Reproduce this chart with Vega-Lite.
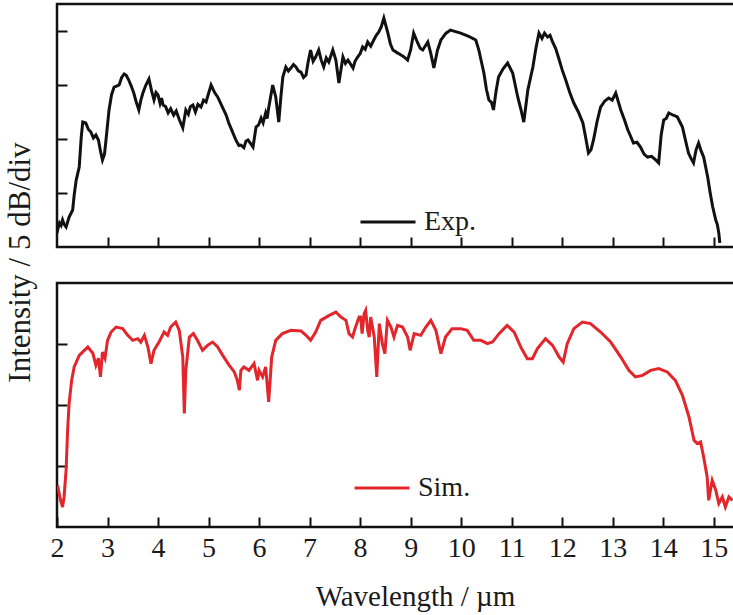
{
  "$schema": "https://vega.github.io/schema/vega-lite/v6.json",
  "padding": {"left": 2, "top": 2, "right": 0, "bottom": 0},
  "background": "white",
  "bounds": "flush",
  "spacing": 36,
  "config": {
    "font": "Liberation Serif",
    "view": {"stroke": "#111", "strokeWidth": 2.5},
    "axis": {
      "grid": false,
      "domain": false,
      "tickColor": "#111",
      "tickWidth": 2,
      "tickSize": -10,
      "labelFlush": false,
      "labelFont": "Liberation Serif",
      "titleFont": "Liberation Serif",
      "labelFontSize": 28,
      "titleFontSize": 29,
      "labelColor": "#1a1a1a",
      "titleColor": "#1a1a1a",
      "titleFontWeight": "normal"
    },
    "legend": {
      "labelFont": "Liberation Serif",
      "labelFontSize": 28,
      "labelColor": "#1a1a1a",
      "symbolType": "stroke",
      "symbolSize": 3025,
      "symbolStrokeWidth": 3,
      "labelOffset": 7,
      "padding": 0,
      "title": null
    }
  },
  "datasets": {
    "exp": [
      {"wl": 2.00, "v": 1.30, "s": "Exp."},
      {"wl": 2.03, "v": 1.90, "s": "Exp."},
      {"wl": 2.05, "v": 2.22, "s": "Exp."},
      {"wl": 2.08, "v": 2.00, "s": "Exp."},
      {"wl": 2.11, "v": 2.50, "s": "Exp."},
      {"wl": 2.14, "v": 2.10, "s": "Exp."},
      {"wl": 2.18, "v": 1.85, "s": "Exp."},
      {"wl": 2.24, "v": 2.78, "s": "Exp."},
      {"wl": 2.31, "v": 3.43, "s": "Exp."},
      {"wl": 2.34, "v": 4.80, "s": "Exp."},
      {"wl": 2.38, "v": 6.20, "s": "Exp."},
      {"wl": 2.44, "v": 7.41, "s": "Exp."},
      {"wl": 2.48, "v": 10.20, "s": "Exp."},
      {"wl": 2.51, "v": 11.57, "s": "Exp."},
      {"wl": 2.57, "v": 11.48, "s": "Exp."},
      {"wl": 2.62, "v": 10.90, "s": "Exp."},
      {"wl": 2.67, "v": 10.65, "s": "Exp."},
      {"wl": 2.72, "v": 10.10, "s": "Exp."},
      {"wl": 2.77, "v": 10.37, "s": "Exp."},
      {"wl": 2.82, "v": 9.91, "s": "Exp."},
      {"wl": 2.86, "v": 8.90, "s": "Exp."},
      {"wl": 2.90, "v": 8.06, "s": "Exp."},
      {"wl": 2.94, "v": 8.60, "s": "Exp."},
      {"wl": 2.97, "v": 9.91, "s": "Exp."},
      {"wl": 3.03, "v": 12.69, "s": "Exp."},
      {"wl": 3.08, "v": 14.10, "s": "Exp."},
      {"wl": 3.13, "v": 14.81, "s": "Exp."},
      {"wl": 3.18, "v": 14.90, "s": "Exp."},
      {"wl": 3.23, "v": 15.00, "s": "Exp."},
      {"wl": 3.28, "v": 15.70, "s": "Exp."},
      {"wl": 3.33, "v": 16.02, "s": "Exp."},
      {"wl": 3.37, "v": 15.90, "s": "Exp."},
      {"wl": 3.42, "v": 15.46, "s": "Exp."},
      {"wl": 3.47, "v": 14.90, "s": "Exp."},
      {"wl": 3.52, "v": 14.26, "s": "Exp."},
      {"wl": 3.57, "v": 13.40, "s": "Exp."},
      {"wl": 3.62, "v": 12.69, "s": "Exp."},
      {"wl": 3.66, "v": 13.60, "s": "Exp."},
      {"wl": 3.70, "v": 14.26, "s": "Exp."},
      {"wl": 3.76, "v": 15.00, "s": "Exp."},
      {"wl": 3.82, "v": 15.56, "s": "Exp."},
      {"wl": 3.87, "v": 14.50, "s": "Exp."},
      {"wl": 3.92, "v": 13.61, "s": "Exp."},
      {"wl": 3.96, "v": 14.30, "s": "Exp."},
      {"wl": 4.00, "v": 14.07, "s": "Exp."},
      {"wl": 4.04, "v": 13.30, "s": "Exp."},
      {"wl": 4.07, "v": 13.80, "s": "Exp."},
      {"wl": 4.10, "v": 13.15, "s": "Exp."},
      {"wl": 4.15, "v": 13.00, "s": "Exp."},
      {"wl": 4.20, "v": 12.41, "s": "Exp."},
      {"wl": 4.25, "v": 12.80, "s": "Exp."},
      {"wl": 4.31, "v": 12.22, "s": "Exp."},
      {"wl": 4.36, "v": 12.60, "s": "Exp."},
      {"wl": 4.42, "v": 11.80, "s": "Exp."},
      {"wl": 4.49, "v": 11.02, "s": "Exp."},
      {"wl": 4.55, "v": 12.69, "s": "Exp."},
      {"wl": 4.60, "v": 12.30, "s": "Exp."},
      {"wl": 4.64, "v": 13.00, "s": "Exp."},
      {"wl": 4.69, "v": 13.15, "s": "Exp."},
      {"wl": 4.74, "v": 12.50, "s": "Exp."},
      {"wl": 4.79, "v": 13.20, "s": "Exp."},
      {"wl": 4.85, "v": 12.96, "s": "Exp."},
      {"wl": 4.90, "v": 13.60, "s": "Exp."},
      {"wl": 4.95, "v": 13.43, "s": "Exp."},
      {"wl": 5.05, "v": 15.00, "s": "Exp."},
      {"wl": 5.12, "v": 14.30, "s": "Exp."},
      {"wl": 5.18, "v": 13.89, "s": "Exp."},
      {"wl": 5.30, "v": 12.69, "s": "Exp."},
      {"wl": 5.35, "v": 12.20, "s": "Exp."},
      {"wl": 5.40, "v": 11.48, "s": "Exp."},
      {"wl": 5.47, "v": 10.70, "s": "Exp."},
      {"wl": 5.54, "v": 9.91, "s": "Exp."},
      {"wl": 5.60, "v": 9.40, "s": "Exp."},
      {"wl": 5.64, "v": 9.44, "s": "Exp."},
      {"wl": 5.70, "v": 9.20, "s": "Exp."},
      {"wl": 5.74, "v": 9.80, "s": "Exp."},
      {"wl": 5.78, "v": 9.91, "s": "Exp."},
      {"wl": 5.83, "v": 9.60, "s": "Exp."},
      {"wl": 5.88, "v": 9.26, "s": "Exp."},
      {"wl": 5.94, "v": 11.11, "s": "Exp."},
      {"wl": 5.99, "v": 11.30, "s": "Exp."},
      {"wl": 6.04, "v": 11.94, "s": "Exp."},
      {"wl": 6.08, "v": 11.50, "s": "Exp."},
      {"wl": 6.13, "v": 12.41, "s": "Exp."},
      {"wl": 6.16, "v": 11.90, "s": "Exp."},
      {"wl": 6.19, "v": 12.87, "s": "Exp."},
      {"wl": 6.27, "v": 15.00, "s": "Exp."},
      {"wl": 6.33, "v": 13.89, "s": "Exp."},
      {"wl": 6.39, "v": 11.57, "s": "Exp."},
      {"wl": 6.43, "v": 13.80, "s": "Exp."},
      {"wl": 6.47, "v": 15.74, "s": "Exp."},
      {"wl": 6.53, "v": 16.67, "s": "Exp."},
      {"wl": 6.58, "v": 16.30, "s": "Exp."},
      {"wl": 6.63, "v": 16.57, "s": "Exp."},
      {"wl": 6.68, "v": 16.90, "s": "Exp."},
      {"wl": 6.73, "v": 16.67, "s": "Exp."},
      {"wl": 6.78, "v": 16.30, "s": "Exp."},
      {"wl": 6.83, "v": 16.20, "s": "Exp."},
      {"wl": 6.88, "v": 15.70, "s": "Exp."},
      {"wl": 6.93, "v": 15.93, "s": "Exp."},
      {"wl": 6.97, "v": 17.10, "s": "Exp."},
      {"wl": 7.02, "v": 18.24, "s": "Exp."},
      {"wl": 7.07, "v": 17.20, "s": "Exp."},
      {"wl": 7.12, "v": 17.59, "s": "Exp."},
      {"wl": 7.18, "v": 18.24, "s": "Exp."},
      {"wl": 7.23, "v": 17.30, "s": "Exp."},
      {"wl": 7.28, "v": 16.67, "s": "Exp."},
      {"wl": 7.33, "v": 17.50, "s": "Exp."},
      {"wl": 7.38, "v": 17.13, "s": "Exp."},
      {"wl": 7.46, "v": 18.24, "s": "Exp."},
      {"wl": 7.52, "v": 17.31, "s": "Exp."},
      {"wl": 7.58, "v": 15.19, "s": "Exp."},
      {"wl": 7.66, "v": 17.59, "s": "Exp."},
      {"wl": 7.71, "v": 17.00, "s": "Exp."},
      {"wl": 7.76, "v": 17.31, "s": "Exp."},
      {"wl": 7.86, "v": 16.57, "s": "Exp."},
      {"wl": 7.90, "v": 17.20, "s": "Exp."},
      {"wl": 7.95, "v": 17.59, "s": "Exp."},
      {"wl": 8.00, "v": 17.90, "s": "Exp."},
      {"wl": 8.05, "v": 18.52, "s": "Exp."},
      {"wl": 8.10, "v": 18.30, "s": "Exp."},
      {"wl": 8.15, "v": 18.98, "s": "Exp."},
      {"wl": 8.21, "v": 18.60, "s": "Exp."},
      {"wl": 8.27, "v": 19.17, "s": "Exp."},
      {"wl": 8.32, "v": 19.60, "s": "Exp."},
      {"wl": 8.37, "v": 19.91, "s": "Exp."},
      {"wl": 8.42, "v": 20.40, "s": "Exp."},
      {"wl": 8.47, "v": 21.20, "s": "Exp."},
      {"wl": 8.55, "v": 19.81, "s": "Exp."},
      {"wl": 8.60, "v": 18.80, "s": "Exp."},
      {"wl": 8.65, "v": 18.24, "s": "Exp."},
      {"wl": 8.73, "v": 18.00, "s": "Exp."},
      {"wl": 8.81, "v": 17.78, "s": "Exp."},
      {"wl": 8.87, "v": 17.60, "s": "Exp."},
      {"wl": 8.94, "v": 17.31, "s": "Exp."},
      {"wl": 9.00, "v": 18.24, "s": "Exp."},
      {"wl": 9.06, "v": 19.81, "s": "Exp."},
      {"wl": 9.14, "v": 18.89, "s": "Exp."},
      {"wl": 9.19, "v": 18.40, "s": "Exp."},
      {"wl": 9.24, "v": 18.24, "s": "Exp."},
      {"wl": 9.34, "v": 18.98, "s": "Exp."},
      {"wl": 9.40, "v": 17.90, "s": "Exp."},
      {"wl": 9.46, "v": 16.57, "s": "Exp."},
      {"wl": 9.53, "v": 18.20, "s": "Exp."},
      {"wl": 9.60, "v": 19.17, "s": "Exp."},
      {"wl": 9.70, "v": 19.80, "s": "Exp."},
      {"wl": 9.79, "v": 20.09, "s": "Exp."},
      {"wl": 9.99, "v": 19.81, "s": "Exp."},
      {"wl": 10.15, "v": 19.50, "s": "Exp."},
      {"wl": 10.29, "v": 19.17, "s": "Exp."},
      {"wl": 10.35, "v": 18.24, "s": "Exp."},
      {"wl": 10.45, "v": 16.11, "s": "Exp."},
      {"wl": 10.50, "v": 14.60, "s": "Exp."},
      {"wl": 10.55, "v": 13.61, "s": "Exp."},
      {"wl": 10.60, "v": 13.40, "s": "Exp."},
      {"wl": 10.64, "v": 12.69, "s": "Exp."},
      {"wl": 10.69, "v": 14.40, "s": "Exp."},
      {"wl": 10.74, "v": 15.74, "s": "Exp."},
      {"wl": 10.83, "v": 16.50, "s": "Exp."},
      {"wl": 10.92, "v": 17.04, "s": "Exp."},
      {"wl": 11.02, "v": 16.11, "s": "Exp."},
      {"wl": 11.07, "v": 15.00, "s": "Exp."},
      {"wl": 11.12, "v": 13.89, "s": "Exp."},
      {"wl": 11.18, "v": 12.80, "s": "Exp."},
      {"wl": 11.24, "v": 11.57, "s": "Exp."},
      {"wl": 11.32, "v": 14.54, "s": "Exp."},
      {"wl": 11.42, "v": 16.67, "s": "Exp."},
      {"wl": 11.48, "v": 18.40, "s": "Exp."},
      {"wl": 11.54, "v": 19.81, "s": "Exp."},
      {"wl": 11.60, "v": 19.30, "s": "Exp."},
      {"wl": 11.65, "v": 19.80, "s": "Exp."},
      {"wl": 11.71, "v": 19.44, "s": "Exp."},
      {"wl": 11.76, "v": 19.60, "s": "Exp."},
      {"wl": 11.81, "v": 18.98, "s": "Exp."},
      {"wl": 11.87, "v": 18.40, "s": "Exp."},
      {"wl": 11.93, "v": 17.50, "s": "Exp."},
      {"wl": 12.00, "v": 16.40, "s": "Exp."},
      {"wl": 12.07, "v": 15.46, "s": "Exp."},
      {"wl": 12.15, "v": 14.30, "s": "Exp."},
      {"wl": 12.23, "v": 13.33, "s": "Exp."},
      {"wl": 12.32, "v": 12.50, "s": "Exp."},
      {"wl": 12.41, "v": 11.48, "s": "Exp."},
      {"wl": 12.47, "v": 10.00, "s": "Exp."},
      {"wl": 12.52, "v": 8.70, "s": "Exp."},
      {"wl": 12.57, "v": 9.00, "s": "Exp."},
      {"wl": 12.62, "v": 9.91, "s": "Exp."},
      {"wl": 12.69, "v": 11.60, "s": "Exp."},
      {"wl": 12.76, "v": 12.96, "s": "Exp."},
      {"wl": 12.84, "v": 13.50, "s": "Exp."},
      {"wl": 12.92, "v": 13.80, "s": "Exp."},
      {"wl": 12.99, "v": 13.60, "s": "Exp."},
      {"wl": 13.06, "v": 14.26, "s": "Exp."},
      {"wl": 13.16, "v": 12.69, "s": "Exp."},
      {"wl": 13.23, "v": 11.80, "s": "Exp."},
      {"wl": 13.30, "v": 10.83, "s": "Exp."},
      {"wl": 13.35, "v": 10.30, "s": "Exp."},
      {"wl": 13.41, "v": 9.63, "s": "Exp."},
      {"wl": 13.48, "v": 9.70, "s": "Exp."},
      {"wl": 13.55, "v": 9.26, "s": "Exp."},
      {"wl": 13.62, "v": 8.60, "s": "Exp."},
      {"wl": 13.69, "v": 8.33, "s": "Exp."},
      {"wl": 13.77, "v": 8.40, "s": "Exp."},
      {"wl": 13.85, "v": 8.06, "s": "Exp."},
      {"wl": 13.91, "v": 7.78, "s": "Exp."},
      {"wl": 13.96, "v": 10.40, "s": "Exp."},
      {"wl": 14.01, "v": 11.76, "s": "Exp."},
      {"wl": 14.06, "v": 11.90, "s": "Exp."},
      {"wl": 14.11, "v": 12.41, "s": "Exp."},
      {"wl": 14.20, "v": 12.20, "s": "Exp."},
      {"wl": 14.28, "v": 12.04, "s": "Exp."},
      {"wl": 14.38, "v": 11.11, "s": "Exp."},
      {"wl": 14.44, "v": 9.90, "s": "Exp."},
      {"wl": 14.50, "v": 8.70, "s": "Exp."},
      {"wl": 14.55, "v": 8.20, "s": "Exp."},
      {"wl": 14.60, "v": 7.78, "s": "Exp."},
      {"wl": 14.65, "v": 9.00, "s": "Exp."},
      {"wl": 14.70, "v": 9.63, "s": "Exp."},
      {"wl": 14.75, "v": 8.90, "s": "Exp."},
      {"wl": 14.80, "v": 8.33, "s": "Exp."},
      {"wl": 14.88, "v": 6.48, "s": "Exp."},
      {"wl": 14.93, "v": 5.00, "s": "Exp."},
      {"wl": 14.98, "v": 3.70, "s": "Exp."},
      {"wl": 15.04, "v": 2.50, "s": "Exp."},
      {"wl": 15.07, "v": 2.10, "s": "Exp."},
      {"wl": 15.10, "v": 1.30, "s": "Exp."},
      {"wl": 15.12, "v": 0.37, "s": "Exp."}
    ],
    "sim": [
      {"wl": 2.01, "v": 3.42, "s": "Sim."},
      {"wl": 2.07, "v": 2.19, "s": "Sim."},
      {"wl": 2.11, "v": 1.64, "s": "Sim."},
      {"wl": 2.14, "v": 2.46, "s": "Sim."},
      {"wl": 2.18, "v": 4.65, "s": "Sim."},
      {"wl": 2.21, "v": 7.93, "s": "Sim."},
      {"wl": 2.24, "v": 10.14, "s": "Sim."},
      {"wl": 2.29, "v": 12.02, "s": "Sim."},
      {"wl": 2.34, "v": 13.12, "s": "Sim."},
      {"wl": 2.44, "v": 14.07, "s": "Sim."},
      {"wl": 2.54, "v": 14.48, "s": "Sim."},
      {"wl": 2.61, "v": 14.75, "s": "Sim."},
      {"wl": 2.71, "v": 14.24, "s": "Sim."},
      {"wl": 2.77, "v": 13.25, "s": "Sim."},
      {"wl": 2.82, "v": 13.83, "s": "Sim."},
      {"wl": 2.86, "v": 12.30, "s": "Sim."},
      {"wl": 2.90, "v": 14.34, "s": "Sim."},
      {"wl": 2.95, "v": 13.83, "s": "Sim."},
      {"wl": 3.00, "v": 15.30, "s": "Sim."},
      {"wl": 3.07, "v": 15.98, "s": "Sim."},
      {"wl": 3.17, "v": 16.39, "s": "Sim."},
      {"wl": 3.30, "v": 16.26, "s": "Sim."},
      {"wl": 3.40, "v": 15.71, "s": "Sim."},
      {"wl": 3.50, "v": 15.30, "s": "Sim."},
      {"wl": 3.60, "v": 15.44, "s": "Sim."},
      {"wl": 3.66, "v": 15.16, "s": "Sim."},
      {"wl": 3.73, "v": 15.71, "s": "Sim."},
      {"wl": 3.80, "v": 14.75, "s": "Sim."},
      {"wl": 3.86, "v": 13.39, "s": "Sim."},
      {"wl": 3.92, "v": 14.48, "s": "Sim."},
      {"wl": 4.02, "v": 15.16, "s": "Sim."},
      {"wl": 4.12, "v": 15.98, "s": "Sim."},
      {"wl": 4.19, "v": 15.71, "s": "Sim."},
      {"wl": 4.25, "v": 16.39, "s": "Sim."},
      {"wl": 4.35, "v": 16.80, "s": "Sim."},
      {"wl": 4.42, "v": 16.12, "s": "Sim."},
      {"wl": 4.49, "v": 13.93, "s": "Sim."},
      {"wl": 4.52, "v": 9.30, "s": "Sim."},
      {"wl": 4.55, "v": 12.84, "s": "Sim."},
      {"wl": 4.62, "v": 15.57, "s": "Sim."},
      {"wl": 4.70, "v": 15.85, "s": "Sim."},
      {"wl": 4.78, "v": 15.30, "s": "Sim."},
      {"wl": 4.88, "v": 14.48, "s": "Sim."},
      {"wl": 4.98, "v": 14.89, "s": "Sim."},
      {"wl": 5.08, "v": 15.16, "s": "Sim."},
      {"wl": 5.18, "v": 14.75, "s": "Sim."},
      {"wl": 5.28, "v": 14.07, "s": "Sim."},
      {"wl": 5.41, "v": 13.25, "s": "Sim."},
      {"wl": 5.51, "v": 12.71, "s": "Sim."},
      {"wl": 5.57, "v": 12.02, "s": "Sim."},
      {"wl": 5.61, "v": 11.21, "s": "Sim."},
      {"wl": 5.64, "v": 12.84, "s": "Sim."},
      {"wl": 5.70, "v": 13.12, "s": "Sim."},
      {"wl": 5.80, "v": 12.84, "s": "Sim."},
      {"wl": 5.90, "v": 13.39, "s": "Sim."},
      {"wl": 5.97, "v": 12.02, "s": "Sim."},
      {"wl": 6.00, "v": 12.84, "s": "Sim."},
      {"wl": 6.07, "v": 12.30, "s": "Sim."},
      {"wl": 6.13, "v": 13.12, "s": "Sim."},
      {"wl": 6.19, "v": 10.25, "s": "Sim."},
      {"wl": 6.25, "v": 13.93, "s": "Sim."},
      {"wl": 6.33, "v": 15.30, "s": "Sim."},
      {"wl": 6.46, "v": 15.85, "s": "Sim."},
      {"wl": 6.63, "v": 16.12, "s": "Sim."},
      {"wl": 6.83, "v": 16.07, "s": "Sim."},
      {"wl": 6.93, "v": 15.71, "s": "Sim."},
      {"wl": 7.02, "v": 15.30, "s": "Sim."},
      {"wl": 7.12, "v": 15.98, "s": "Sim."},
      {"wl": 7.22, "v": 16.94, "s": "Sim."},
      {"wl": 7.39, "v": 17.35, "s": "Sim."},
      {"wl": 7.52, "v": 17.62, "s": "Sim."},
      {"wl": 7.62, "v": 17.21, "s": "Sim."},
      {"wl": 7.72, "v": 16.94, "s": "Sim."},
      {"wl": 7.78, "v": 15.85, "s": "Sim."},
      {"wl": 7.85, "v": 15.57, "s": "Sim."},
      {"wl": 7.91, "v": 16.39, "s": "Sim."},
      {"wl": 7.98, "v": 17.21, "s": "Sim."},
      {"wl": 8.01, "v": 17.21, "s": "Sim."},
      {"wl": 8.04, "v": 15.85, "s": "Sim."},
      {"wl": 8.08, "v": 17.49, "s": "Sim."},
      {"wl": 8.11, "v": 17.76, "s": "Sim."},
      {"wl": 8.15, "v": 16.12, "s": "Sim."},
      {"wl": 8.18, "v": 15.57, "s": "Sim."},
      {"wl": 8.21, "v": 17.21, "s": "Sim."},
      {"wl": 8.28, "v": 15.57, "s": "Sim."},
      {"wl": 8.33, "v": 12.30, "s": "Sim."},
      {"wl": 8.38, "v": 16.67, "s": "Sim."},
      {"wl": 8.44, "v": 15.03, "s": "Sim."},
      {"wl": 8.49, "v": 14.21, "s": "Sim."},
      {"wl": 8.54, "v": 16.94, "s": "Sim."},
      {"wl": 8.61, "v": 16.39, "s": "Sim."},
      {"wl": 8.67, "v": 15.57, "s": "Sim."},
      {"wl": 8.74, "v": 16.53, "s": "Sim."},
      {"wl": 8.84, "v": 16.39, "s": "Sim."},
      {"wl": 8.94, "v": 15.57, "s": "Sim."},
      {"wl": 8.99, "v": 14.48, "s": "Sim."},
      {"wl": 9.07, "v": 15.85, "s": "Sim."},
      {"wl": 9.20, "v": 15.71, "s": "Sim."},
      {"wl": 9.30, "v": 16.39, "s": "Sim."},
      {"wl": 9.40, "v": 16.94, "s": "Sim."},
      {"wl": 9.50, "v": 16.12, "s": "Sim."},
      {"wl": 9.60, "v": 14.21, "s": "Sim."},
      {"wl": 9.69, "v": 15.57, "s": "Sim."},
      {"wl": 9.82, "v": 16.26, "s": "Sim."},
      {"wl": 9.99, "v": 16.26, "s": "Sim."},
      {"wl": 10.12, "v": 16.12, "s": "Sim."},
      {"wl": 10.25, "v": 15.30, "s": "Sim."},
      {"wl": 10.39, "v": 15.30, "s": "Sim."},
      {"wl": 10.52, "v": 15.03, "s": "Sim."},
      {"wl": 10.62, "v": 15.16, "s": "Sim."},
      {"wl": 10.75, "v": 15.85, "s": "Sim."},
      {"wl": 10.91, "v": 16.53, "s": "Sim."},
      {"wl": 11.05, "v": 15.98, "s": "Sim."},
      {"wl": 11.18, "v": 14.75, "s": "Sim."},
      {"wl": 11.31, "v": 13.80, "s": "Sim."},
      {"wl": 11.41, "v": 13.80, "s": "Sim."},
      {"wl": 11.51, "v": 14.62, "s": "Sim."},
      {"wl": 11.67, "v": 15.44, "s": "Sim."},
      {"wl": 11.81, "v": 14.89, "s": "Sim."},
      {"wl": 11.94, "v": 13.93, "s": "Sim."},
      {"wl": 12.02, "v": 13.52, "s": "Sim."},
      {"wl": 12.10, "v": 15.03, "s": "Sim."},
      {"wl": 12.23, "v": 16.26, "s": "Sim."},
      {"wl": 12.40, "v": 16.80, "s": "Sim."},
      {"wl": 12.56, "v": 16.67, "s": "Sim."},
      {"wl": 12.76, "v": 15.98, "s": "Sim."},
      {"wl": 12.96, "v": 15.16, "s": "Sim."},
      {"wl": 13.16, "v": 13.93, "s": "Sim."},
      {"wl": 13.32, "v": 12.84, "s": "Sim."},
      {"wl": 13.45, "v": 12.30, "s": "Sim."},
      {"wl": 13.59, "v": 12.43, "s": "Sim."},
      {"wl": 13.75, "v": 12.84, "s": "Sim."},
      {"wl": 13.91, "v": 12.98, "s": "Sim."},
      {"wl": 14.08, "v": 12.71, "s": "Sim."},
      {"wl": 14.24, "v": 12.02, "s": "Sim."},
      {"wl": 14.38, "v": 10.80, "s": "Sim."},
      {"wl": 14.51, "v": 9.02, "s": "Sim."},
      {"wl": 14.61, "v": 7.11, "s": "Sim."},
      {"wl": 14.67, "v": 6.84, "s": "Sim."},
      {"wl": 14.74, "v": 6.97, "s": "Sim."},
      {"wl": 14.80, "v": 5.74, "s": "Sim."},
      {"wl": 14.87, "v": 4.10, "s": "Sim."},
      {"wl": 14.90, "v": 2.19, "s": "Sim."},
      {"wl": 14.97, "v": 3.83, "s": "Sim."},
      {"wl": 15.04, "v": 3.01, "s": "Sim."},
      {"wl": 15.10, "v": 1.92, "s": "Sim."},
      {"wl": 15.17, "v": 2.46, "s": "Sim."},
      {"wl": 15.23, "v": 1.64, "s": "Sim."},
      {"wl": 15.30, "v": 2.46, "s": "Sim."},
      {"wl": 15.37, "v": 2.19, "s": "Sim."}
    ]
  },
  "resolve": {"scale": {"color": "independent"}},
  "vconcat": [
    {
      "width": 682,
      "height": 243,
      "data": {"name": "exp"},
      "mark": {"type": "line", "strokeWidth": 3, "clip": true},
      "encoding": {
        "x": {"field": "wl", "type": "quantitative",
              "scale": {"domain": [2, 15.5], "nice": false, "zero": false},
              "axis": {"values": [3,4,5,6,7,8,9,10,11,12,13,14,15], "labels": false, "title": null}},
        "y": {"field": "v", "type": "quantitative",
              "scale": {"domain": [0, 22.5], "nice": false},
              "axis": {"values": [5, 10, 15, 20], "labels": false,
                       "title": "Intensity / 5 dB/div", "titleFontSize": 31,
                       "titleX": -28, "titleY": 258, "titleBaseline": "alphabetic", "titleAngle": -90}},
        "color": {"field": "s", "type": "nominal",
                  "scale": {"domain": ["Exp."], "range": ["#111111"]},
                  "legend": {"orient": "none", "legendX": 302, "legendY": 189}}
      }
    },
    {
      "width": 682,
      "height": 244,
      "data": {"name": "sim"},
      "mark": {"type": "line", "strokeWidth": 3, "clip": true},
      "encoding": {
        "x": {"field": "wl", "type": "quantitative",
              "scale": {"domain": [2, 15.5], "nice": false, "zero": false},
              "axis": {"values": [2,3,4,5,6,7,8,9,10,11,12,13,14,15], "labelPadding": 17,
                       "title": "Wavelength / µm", "titleX": 358, "titleY": 78, "titleBaseline": "alphabetic"}},
        "y": {"field": "v", "type": "quantitative",
              "scale": {"domain": [0, 20], "nice": false},
              "axis": {"values": [5, 10, 15], "labels": false, "title": null}},
        "color": {"field": "s", "type": "nominal",
                  "scale": {"domain": ["Sim."], "range": ["#e3262b"]},
                  "legend": {"orient": "none", "legendX": 296, "legendY": 176}}
      }
    }
  ]
}
